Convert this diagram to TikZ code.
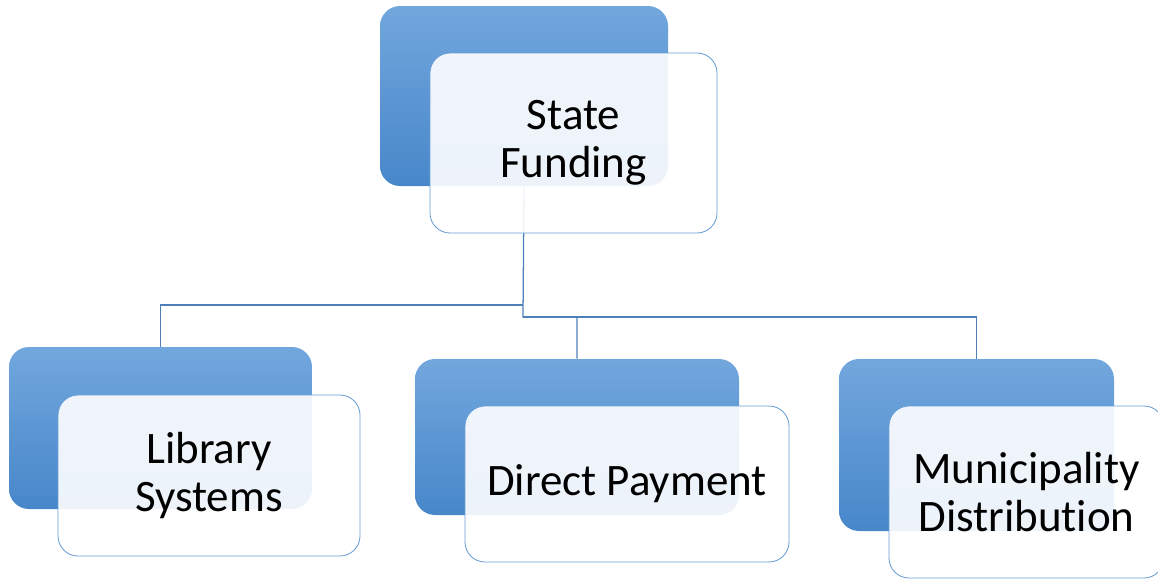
\documentclass[tikz,border=0pt]{standalone}
\usepackage{fontspec}
\setmainfont{Carlito}[Ligatures={NoCommon}]
\definecolor{backtop}{HTML}{72A7DD}
\definecolor{backbot}{HTML}{4787CA}
\definecolor{edge}{HTML}{6A9ED6}
\definecolor{linkc}{HTML}{4F7FBA}
\begin{document}
\begin{tikzpicture}[x=0.025cm,y=-0.025cm,
  back/.style={rounded corners=0.5cm,top color=backtop,bottom color=backbot,draw=none,inner sep=0pt},
  front/.style={rounded corners=0.5cm,draw=edge,line width=0.6pt,fill=white,fill opacity=0.9,text opacity=1,
    align=center,inner sep=0pt,font=\fontsize{32}{34}\selectfont},
  link/.style={draw=linkc,line width=0.9pt}]
\def\u{0.025};
\useasboundingbox (0,0) rectangle (1158,579);
% junctions of the tree
\coordinate (J1) at (523,305);
\coordinate (J2) at (523,317);
% back boxes
\node[back,minimum width=288*\u cm,minimum height=180*\u cm] (SB) at (524,96) {};
\node[back,minimum width=303*\u cm,minimum height=162*\u cm] (LB) at (160.5,428) {};
\node[back,minimum width=324*\u cm,minimum height=156*\u cm] (DB) at (577,437) {};
\node[back,minimum width=275*\u cm,minimum height=172*\u cm] (MB) at (976.5,445) {};
% connectors
\draw[link] (SB.south) -- (J2) -| (DB.north);
\draw[link] (J2) -| (MB.north);
\draw[link] (J1) -| (LB.north);
% front boxes
\node[front,minimum width=287*\u cm,minimum height=180*\u cm] (SF) at (573.5,143) {State\\Funding};
\node[front,minimum width=302*\u cm,minimum height=161*\u cm] (LF) at (209,475.5) {Library\\Systems};
\node[front,minimum width=324*\u cm,minimum height=156*\u cm] (DF) at (627,484) {Direct Payment};
\node[front,minimum width=275*\u cm,minimum height=172*\u cm] (MF) at (1026.5,492) {Municipality\\Distribution};
\end{tikzpicture}
\end{document}
